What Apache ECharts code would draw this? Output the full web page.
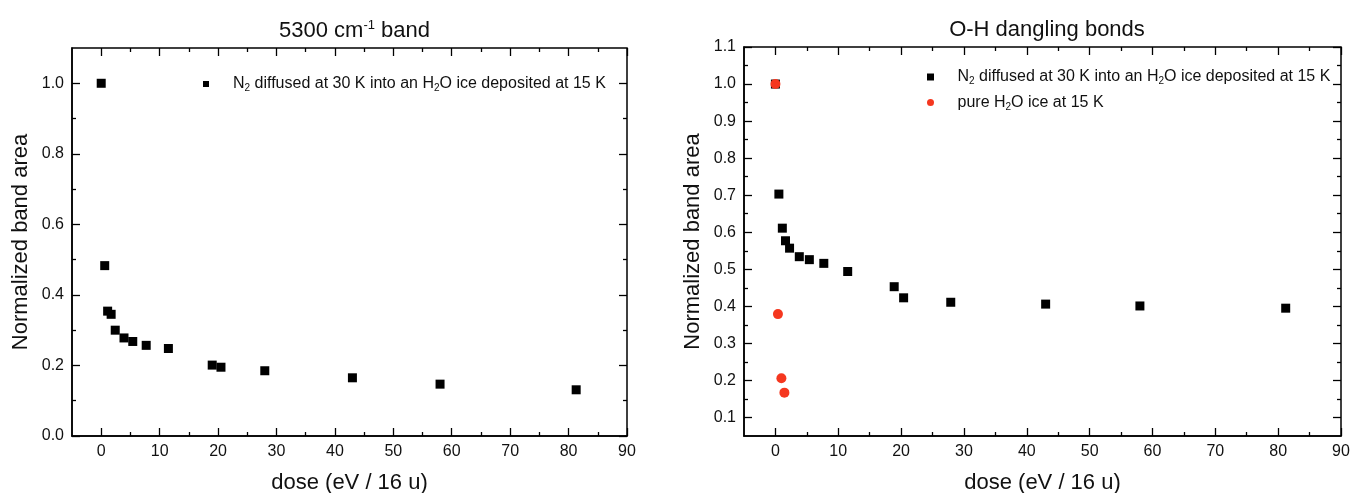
<!DOCTYPE html>
<html>
<head>
<meta charset="utf-8">
<script src="https://cdn.jsdelivr.net/npm/echarts@6/dist/echarts.min.js"></script>
<style>
html,body{margin:0;padding:0;background:#fff;}
#c{width:1351px;height:493px;}
</style>
</head>
<body>
<div id="c"></div>
<script>
// ---- data ----
const leftDose = [0, 0.6, 1.1, 1.7, 2.4, 3.9, 5.4, 7.7, 11.5, 19.0, 20.5, 28.0, 43.0, 58.0, 81.3];
const leftArea = [1.0, 0.483, 0.354, 0.345, 0.300, 0.278, 0.268, 0.257, 0.248, 0.201, 0.195, 0.185, 0.165, 0.147, 0.131];

const rightDose = [0, 0.55, 1.1, 1.6, 2.25, 3.8, 5.4, 7.7, 11.5, 18.9, 20.4, 27.9, 43.0, 58.0, 81.2];
const rightArea = [1.0, 0.703, 0.611, 0.577, 0.557, 0.534, 0.526, 0.516, 0.494, 0.453, 0.423, 0.411, 0.406, 0.401, 0.395];

const pureDose = [0, 0.4, 0.95, 1.43];
const pureArea = [1.0, 0.379, 0.206, 0.167];

const xMajorTicks = [0, 10, 20, 30, 40, 50, 60, 70, 80, 90];
const xMinorTicks = [5, 15, 25, 35, 45, 55, 65, 75, 85];
const leftYMajor = [0, 0.2, 0.4, 0.6, 0.8, 1.0];
const leftYMinor = [0.1, 0.3, 0.5, 0.7, 0.9];
const rightYMajor = [0.1, 0.2, 0.3, 0.4, 0.5, 0.6, 0.7, 0.8, 0.9, 1.0, 1.1];
const rightYMinor = [0.15, 0.25, 0.35, 0.45, 0.55, 0.65, 0.75, 0.85, 0.95, 1.05];

const titles = ['{a|5300 cm}{sup|-1}{a| band}', 'O-H dangling bonds'];
const xName = 'dose (eV / 16 u)';
const yName = 'Normalized band area';
const seriesN2 = '{t|N}{s|2}{t| diffused at 30 K into an H}{s|2}{t|O ice deposited at 15 K}';
const seriesPure = '{t|pure H}{s|2}{t|O ice at 15 K}';

// ---- build ----
const FONT = 'Liberation Sans, Arial, sans-serif';
const pair = (xs, ys) => xs.map((x, i) => [x, ys[i]]);
const SQUARE = 'path://M0,0h10v10h-10z';

function makeAxes(kind, gridIndex, min, max, major, minor, showLabels, nameCfg) {
  const axes = [];
  const positions = kind === 'x' ? ['bottom', 'top'] : ['left', 'right'];
  positions.forEach((pos, pi) => {
    const ax = {
      type: 'value', gridIndex, position: pos, min, max,
      axisLine: { show: pi === 0, onZero: false, lineStyle: { color: '#000', width: 1.5 } },
      axisTick: { show: true, inside: true, length: 8, customValues: major, lineStyle: { color: '#000', width: 1.3 } },
      axisLabel: {
        show: pi === 0 && showLabels, customValues: major,
        color: '#111', fontFamily: FONT, fontSize: 16,
        margin: kind === 'x' ? 8 : 8,
        formatter: v => kind === 'x' ? String(Math.round(v)) : v.toFixed(1)
      },
      splitLine: { show: false }
    };
    if (pi === 0 && nameCfg) Object.assign(ax, nameCfg);
    axes.push(ax);
    axes.push({
      type: 'value', gridIndex, position: pos, min, max,
      axisLine: { show: false, onZero: false },
      axisTick: { show: true, inside: true, length: 4, customValues: minor, lineStyle: { color: '#000', width: 1.3 } },
      axisLabel: { show: false },
      splitLine: { show: false }
    });
  });
  return axes;
}

const xNameCfg = {
  name: xName, nameLocation: 'middle', nameGap: 36,
  nameTextStyle: { fontFamily: FONT, fontSize: 22, color: '#111' }
};
const yNameCfg = {
  name: yName, nameLocation: 'middle', nameGap: 40,
  nameTextStyle: { fontFamily: FONT, fontSize: 22, color: '#111' }
};

const xAxes = [
  ...makeAxes('x', 0, -5, 90, xMajorTicks, xMinorTicks, true, xNameCfg),
  ...makeAxes('x', 1, -5, 90, xMajorTicks, xMinorTicks, true, xNameCfg)
];
const yAxes = [
  ...makeAxes('y', 0, 0, 1.1, leftYMajor, leftYMinor, true, yNameCfg),
  ...makeAxes('y', 1, 0.05, 1.1, rightYMajor, rightYMinor, true, yNameCfg)
];

const richLegend = {
  t: { fontFamily: FONT, fontSize: 16, color: '#111' },
  s: { fontFamily: FONT, fontSize: 10, color: '#111', verticalAlign: 'bottom', padding: [9, 0, 0, 0] }
};

const option = {
  backgroundColor: '#fff',
  animation: false,
  title: [
    { text: titles[0], left: 349.5, top: 14, textAlign: 'center',
      textStyle: { fontWeight: 'normal', rich: {
        a: { fontFamily: FONT, fontSize: 22, fontWeight: 'normal', color: '#111' },
        sup: { fontFamily: FONT, fontSize: 13, fontWeight: 'normal', color: '#111', verticalAlign: 'top', padding: [0, 0, 10, 0] }
      } } },
    { text: titles[1], left: 1042, top: 14, textAlign: 'center',
      textStyle: { fontFamily: FONT, fontSize: 22, fontWeight: 'normal', color: '#111' } }
  ],
  grid: [
    { left: 72, top: 48, width: 555, height: 388, show: true, borderColor: '#000', borderWidth: 1.5,
      backgroundColor: 'transparent', containLabel: false, outerBoundsMode: 'none' },
    { left: 744, top: 47, width: 597, height: 389, show: true, borderColor: '#000', borderWidth: 1.5,
      backgroundColor: 'transparent', containLabel: false, outerBoundsMode: 'none' }
  ],
  legend: [
    { data: [{ name: 'N2L', icon: SQUARE }], left: 198, top: 71, orient: 'vertical',
      itemWidth: 44, itemHeight: 6, symbolKeepAspect: true,
      formatter: () => seriesN2, textStyle: { rich: richLegend } },
    { data: [{ name: 'N2R', icon: SQUARE }, { name: 'pure', icon: 'circle' }], left: 922, top: 64, orient: 'vertical',
      itemWidth: 44, itemHeight: 7, itemGap: 8, symbolKeepAspect: true,
      formatter: n => n === 'pure' ? seriesPure : seriesN2, textStyle: { rich: richLegend } }
  ],
  xAxis: xAxes,
  yAxis: yAxes,
  series: [
    { name: 'N2L', type: 'scatter', xAxisIndex: 0, yAxisIndex: 0, symbol: 'rect', symbolSize: 9,
      itemStyle: { color: '#000', opacity: 1 }, data: pair(leftDose, leftArea) },
    { name: 'N2R', type: 'scatter', xAxisIndex: 4, yAxisIndex: 4, symbol: 'rect', symbolSize: 9,
      itemStyle: { color: '#000', opacity: 1 }, data: pair(rightDose, rightArea) },
    { name: 'pure', type: 'scatter', xAxisIndex: 4, yAxisIndex: 4, symbol: 'circle', symbolSize: 10,
      itemStyle: { color: '#f5371f', opacity: 1 }, data: pair(pureDose, pureArea) }
  ]
};

const chart = echarts.init(document.getElementById('c'), null, { renderer: 'canvas' });
chart.setOption(option);
</script>
</body>
</html>
